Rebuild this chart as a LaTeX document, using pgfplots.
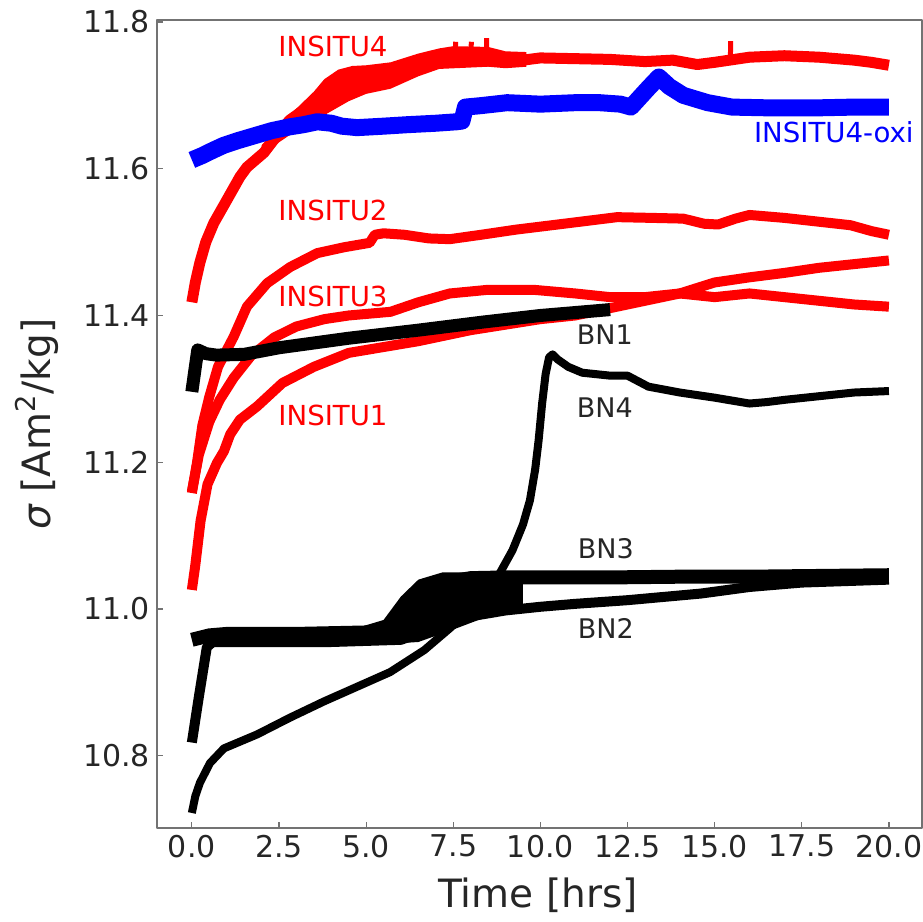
\documentclass[border=0pt]{standalone}
\usepackage{fontspec}
\setmainfont{DejaVu Sans}
\usepackage{pgfplots}
\pgfplotsset{compat=1.18}
\definecolor{spinec}{gray}{0.45}
\definecolor{txtc}{gray}{0.15}
\begin{document}
\begin{tikzpicture}[line join=round, line cap=round]
\begin{axis}[name=ax, scale only axis, width=382.5pt, height=404pt,
  xmin=-1, xmax=20.95, ymin=10.7015, ymax=11.8027,
  xtick={0,2.5,5,7.5,10,12.5,15,17.5,20},
  ytick={10.8,11,11.2,11.4,11.6,11.8},
  /pgf/number format/fixed,
  /pgf/number format/fixed zerofill,
  /pgf/number format/precision=1,
  /pgf/number format/assume math mode=true,
  tick align=inside, tick pos=left, major tick length=3pt,
  tick style={color=spinec, line width=0.6pt},
  axis line style={color=spinec, line width=0.7pt},
  ticklabel style={font=\fontsize{15}{18}\selectfont, text=txtc},
  label style={font=\fontsize{19.5}{23}\selectfont, text=txtc},
  xlabel={Time [hrs]},
  ylabel={{\itshape σ} [Am\textsuperscript{2}/kg]},
  xlabel style={at={(axis description cs:0.498,-0.083)}, anchor=center},
  ylabel style={at={(axis description cs:-0.157,0.5)}, anchor=center},
  clip=true,
]
% INSITU1
\addplot[color=red, line width=5pt] coordinates {(0,11.026)(0.1,11.06)(0.25,11.12)(0.45,11.17)(0.72,11.199)(0.92,11.215)(1.1,11.238)(1.38,11.258)(1.87,11.276)(2.6,11.308)(3.5,11.33)(4.5,11.349)(5.5,11.357)(6.5,11.365)(8,11.38)(10,11.395)(11,11.40)(12,11.41)(13,11.42)(14,11.43)(15,11.445)(16,11.452)(17,11.458)(18,11.465)(19,11.47)(20,11.475)};
% INSITU2
\addplot[color=red, line width=5pt] coordinates {(0,11.158)(0.15,11.2)(0.3,11.25)(0.5,11.289)(0.75,11.33)(1.2,11.371)(1.58,11.412)(2.16,11.444)(2.82,11.466)(3.6,11.485)(4.37,11.493)(5.1,11.499)(5.25,11.51)(5.5,11.512)(6.1,11.51)(6.8,11.505)(7.4,11.504)(8.3,11.51)(9.3,11.517)(10.5,11.524)(12.2,11.534)(13.2,11.533)(14.1,11.532)(14.7,11.525)(15.1,11.524)(15.6,11.532)(16.0,11.537)(17,11.533)(17.95,11.528)(18.9,11.523)(19.5,11.515)(20,11.51)};
% INSITU3
\addplot[color=red, line width=5pt] coordinates {(0,11.16)(0.2,11.21)(0.5,11.255)(0.8,11.285)(1.2,11.315)(1.7,11.345)(2.36,11.37)(3,11.385)(3.8,11.395)(4.5,11.40)(5.7,11.405)(6.5,11.418)(7.4,11.43)(8.5,11.435)(9.8,11.435)(11,11.43)(12,11.425)(13,11.425)(14,11.43)(15,11.425)(16,11.43)(17,11.425)(18,11.42)(19,11.415)(20,11.412)};
% INSITU4 (noisy band + line)
\addplot[fill=red, draw=none] coordinates {(2.0,11.632)(2.5,11.658)(3.0,11.682)(3.5,11.705)(3.8,11.722)(4.2,11.735)(4.6,11.74)(5.0,11.741)(5.7,11.745)(6.5,11.757)(7.1,11.764)(7.5,11.767)(8.5,11.766)(9.0,11.76)(9.6,11.759)(9.6,11.739)(9.0,11.737)(8.5,11.739)(7.1,11.736)(6.5,11.726)(5.7,11.709)(5.0,11.702)(4.5,11.692)(3.8,11.673)(3.0,11.652)(2.5,11.636)(2.0,11.617)} -- cycle;
\addplot[color=red, line width=5.5pt] coordinates {(0,11.418)(0.1,11.445)(0.23,11.472)(0.4,11.50)(0.63,11.526)(1.0,11.557)(1.38,11.589)(1.58,11.602)(2.07,11.622)(2.36,11.64)(2.8,11.666)(3.3,11.683)(3.8,11.698)(4.1,11.712)(4.37,11.718)(4.7,11.716)(5,11.722)(5.4,11.725)(5.7,11.727)(6.1,11.734)(6.4,11.74)(6.8,11.744)(7.1,11.751)(7.4,11.755)(7.9,11.758)(8.38,11.755)(8.8,11.748)(9.05,11.745)(9.5,11.748)(10,11.751)(11,11.75)(12,11.749)(13,11.746)(13.8,11.748)(14.5,11.742)(15,11.745)(16,11.752)(17,11.754)(18,11.752)(19,11.748)(19.5,11.745)(20,11.741)};
\addplot[color=red, line width=2.5pt] coordinates {(7.55,11.752)(7.57,11.773)};
\addplot[color=red, line width=2.5pt] coordinates {(8.0,11.752)(8.02,11.773)};
\addplot[color=red, line width=2.5pt] coordinates {(8.45,11.75)(8.46,11.778)};
\addplot[color=red, line width=2.5pt] coordinates {(15.45,11.744)(15.46,11.774)};
% INSITU4-oxi
\addplot[color=blue, line width=8.5pt] coordinates {(0,11.612)(0.3,11.618)(0.6,11.625)(0.92,11.632)(1.3,11.638)(1.87,11.646)(2.3,11.652)(2.8,11.657)(3.2,11.66)(3.6,11.664)(4.0,11.662)(4.3,11.658)(4.74,11.656)(5.5,11.658)(6.18,11.66)(7,11.662)(7.6,11.664)(7.75,11.665)(7.85,11.684)(8.3,11.686)(9.05,11.69)(10,11.688)(11,11.69)(11.7,11.69)(12.3,11.688)(12.6,11.684)(13.1,11.71)(13.4,11.725)(13.7,11.712)(14.1,11.70)(14.8,11.69)(15.5,11.684)(16.5,11.683)(18,11.683)(19,11.684)(20,11.684)};
% BN3 noisy band
\addplot[fill=black, draw=none] coordinates {(4.8,10.975)(5.5,10.985)(6.0,11.017)(6.5,11.04)(7.2,11.05)(9.5,11.05)(9.5,11.0)(8.5,10.99)(7.5,10.972)(6.5,10.955)(5.5,10.952)(4.8,10.952)} -- cycle;
\addplot[color=black, line width=7pt] coordinates {(0,10.958)(0.5,10.964)(1,10.966)(2,10.966)(3,10.966)(4,10.967)(5,10.968)(5.5,10.972)(6,10.99)(6.5,11.012)(7,11.03)(7.5,11.038)(8,11.042)(9,11.043)(10,11.043)(12,11.043)(14,11.044)(16,11.044)(18,11.045)(20,11.046)};
% BN2
\addplot[color=black, line width=5pt] coordinates {(0,10.818)(0.2,10.88)(0.43,10.948)(0.6,10.955)(2,10.955)(4,10.955)(6,10.958)(7,10.975)(8,10.99)(9,10.998)(10,11.003)(11,11.007)(12.5,11.012)(14.6,11.021)(16,11.03)(17.5,11.036)(20,11.04)};
% BN4
\addplot[color=black, line width=4pt] coordinates {(0,10.722)(0.1,10.745)(0.23,10.763)(0.52,10.79)(0.92,10.81)(1.87,10.829)(2.82,10.852)(3.79,10.874)(4.74,10.894)(5.69,10.914)(6.67,10.944)(7.41,10.974)(8.0,11.0)(8.5,11.027)(8.85,11.05)(9.2,11.08)(9.5,11.115)(9.7,11.148)(9.85,11.19)(9.95,11.23)(10.05,11.28)(10.15,11.32)(10.25,11.343)(10.35,11.347)(10.5,11.34)(10.8,11.33)(11.2,11.322)(12,11.318)(12.5,11.318)(13.1,11.303)(14,11.295)(15,11.288)(16,11.28)(16.5,11.282)(17,11.285)(18,11.29)(19,11.295)(20,11.297)};
% BN1
\addplot[color=black, line width=6.5pt] coordinates {(0,11.296)(0.1,11.33)(0.17,11.353)(0.4,11.348)(0.7,11.346)(1.5,11.347)(2.5,11.356)(4.5,11.369)(6.5,11.38)(8.35,11.391)(10,11.40)(12,11.408)};
% labels
\node[text=red, anchor=base, font=\fontsize{13.8}{16}\selectfont] at (axis cs:4.05,11.7523) {INSITU4};
\node[text=red, anchor=base, font=\fontsize{13.8}{16}\selectfont] at (axis cs:4.05,11.530) {INSITU2};
\node[text=red, anchor=base, font=\fontsize{13.8}{16}\selectfont] at (axis cs:4.05,11.4116) {INSITU3};
\node[text=red, anchor=base, font=\fontsize{13.8}{16}\selectfont] at (axis cs:4.05,11.2507) {INSITU1};
\node[text=blue, anchor=base, font=\fontsize{13.8}{16}\selectfont] at (axis cs:18.42,11.6364) {INSITU4-oxi};
\node[text=txtc, anchor=base, font=\fontsize{13.5}{16}\selectfont] at (axis cs:11.85,11.3598) {BN1};
\node[text=txtc, anchor=base, font=\fontsize{13.5}{16}\selectfont] at (axis cs:11.85,11.2616) {BN4};
\node[text=txtc, anchor=base, font=\fontsize{13.5}{16}\selectfont] at (axis cs:11.88,11.0694) {BN3};
\node[text=txtc, anchor=base, font=\fontsize{13.5}{16}\selectfont] at (axis cs:11.88,10.9604) {BN2};
\end{axis}
\pgfresetboundingbox
\path[use as bounding box] ([xshift=-78.5pt,yshift=-46.5pt]ax.south west) rectangle ([xshift=0.5pt,yshift=10pt]ax.north east);
\end{tikzpicture}
\end{document}
